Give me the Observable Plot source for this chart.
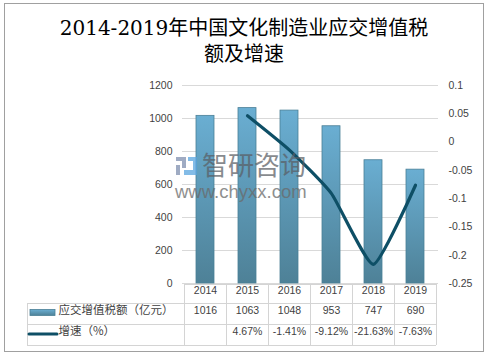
<!DOCTYPE html>
<html>
<head>
<meta charset="utf-8">
<script src="https://cdn.jsdelivr.net/npm/d3@7"></script>
<script src="https://cdn.jsdelivr.net/npm/@observablehq/plot@0.6"></script>
<style>
  html, body { margin: 0; padding: 0; background: #fff; }
  #wrap { position: relative; width: 488px; height: 356px; overflow: hidden; background: #fff; }
  #title { height: 70px; box-sizing: border-box; padding-top: 15px; text-align: center;
           font-family: "DejaVu Serif", "Noto Sans CJK SC", serif; font-size: 20px; line-height: 26px; color: #000; }
  #frame { position: absolute; left: 4px; top: 3px; width: 478px; height: 347px; border: 1px solid #a0a0a0; pointer-events: none; }
  #wm1 { position: absolute; left: 202px; top: 151px; font-family: "Noto Sans CJK SC", sans-serif; font-size: 26px; line-height: 26px; color: #5a5e64; opacity: 0.72; pointer-events: none; }
  #wm2 { position: absolute; left: 175px; top: 183px; font-family: "Liberation Sans", sans-serif; font-size: 18.5px; line-height: 18px; color: #6a6a6a; opacity: 0.75; pointer-events: none; }
  #logo { position: absolute; left: 176px; top: 156px; width: 22px; height: 20px; pointer-events: none; opacity: 0.75; }
</style>
</head>
<body>
<div id="wrap">
  <div id="title">2014-2019年中国文化制造业应交增值税<br>额及增速</div>
  <div id="chart"></div>
  <svg id="logo" viewBox="0 0 22 20">
    <rect x="0" y="1" width="10" height="4" fill="#7f8fb0"/>
    <rect x="6" y="4" width="4" height="8" fill="#7f8fb0"/>
    <rect x="0" y="9" width="4" height="10" fill="#7f8fb0"/>
    <rect x="12" y="1" width="9" height="4" fill="#5aa6e0"/>
    <rect x="17" y="4" width="4" height="12" fill="#5aa6e0"/>
    <rect x="8" y="14" width="13" height="5" fill="#5aa6e0"/>
  </svg>
  <div id="wm1">智研咨询</div>
  <div id="wm2">www.chyxx.com</div>
  <div id="frame"></div>
</div>
<script>
// ---- data ----
const years = ["2014", "2015", "2016", "2017", "2018", "2019"];
const taxValues = [1016, 1063, 1048, 953, 747, 690];          // 亿元
const growthYears = ["2015", "2016", "2017", "2018", "2019"];
const growthValues = [0.0467, -0.0141, -0.0912, -0.2163, -0.0763];
const leftTicks = [0, 200, 400, 600, 800, 1000, 1200];
const rightTicks = [0.1, 0.05, 0, -0.05, -0.1, -0.15, -0.2, -0.25];
const seriesNames = ["应交增值税额（亿元）", "增速（%）"];

// right axis [-0.25, 0.1] mapped onto left axis [0, 1200]
const rMin = -0.25, rMax = 0.1, lMax = 1200;
const toLeft = v => (v - rMin) / (rMax - rMin) * lMax;
const fromLeft = v => v / lMax * (rMax - rMin) + rMin;

const bars = years.map((y, i) => ({year: y, value: taxValues[i]}));
const growth = growthYears.map((y, i) => ({year: y, g: growthValues[i], v: toLeft(growthValues[i])}));
const growthText = years.map(y => {
  const k = growthYears.indexOf(y);
  return {year: y, text: k < 0 ? "" : (growthValues[k] * 100).toFixed(2) + "%"};
});

const barColor = "url(#barGrad)";
const lineColor = "#0e4f66";
const textColor = "#3f3f3f";

const defs = () => {
  const d = d3.create("svg:defs");
  const g = d.append("linearGradient").attr("id", "barGrad").attr("x1", 0).attr("y1", 0).attr("x2", 0).attr("y2", 1);
  g.append("stop").attr("offset", "0%").attr("stop-color", "#6aaed2");
  g.append("stop").attr("offset", "100%").attr("stop-color", "#4e8197");
  const h = d.append("linearGradient").attr("id", "keyGrad").attr("x1", 0).attr("y1", 0).attr("x2", 0).attr("y2", 1);
  h.append("stop").attr("offset", "0%").attr("stop-color", "#6aaed2");
  h.append("stop").attr("offset", "100%").attr("stop-color", "#4e8197");
  return d.node();
};

const plot = Plot.plot({
  width: 488,
  height: 286,
  marginLeft: 182,
  marginRight: 50,
  marginTop: 15,
  marginBottom: 73,
  style: {fontFamily: "'Liberation Sans', 'Noto Sans CJK SC', sans-serif", fontSize: "10.5px", color: textColor, background: "transparent"},
  x: {domain: years, paddingInner: 0.58, paddingOuter: 0.29, axis: null},
  y: {domain: [0, 1200], axis: null},
  marks: [
    defs,
    Plot.gridY(leftTicks, {stroke: "#d9d9d9", strokeOpacity: 1}),
    Plot.axisY(leftTicks, {anchor: "left", tickSize: 0, tickPadding: 10, label: null, tickFormat: d => String(d)}),
    Plot.axisY(rightTicks.map(toLeft), {anchor: "right", tickSize: 0, tickPadding: 10, label: null,
      tickFormat: v => String(+fromLeft(v).toFixed(2))}),
    Plot.barY(bars, {x: "year", y: "value", fill: barColor, stroke: "#4a7f96", strokeWidth: 0.8}),
    Plot.line(growth, {x: "year", y: "v", stroke: lineColor, strokeWidth: 3.2, curve: "cardinal", tension: 0.5}),
    // table text
    Plot.text(years, {x: d => d, text: d => d, frameAnchor: "bottom", dy: 10.5}),
    Plot.text(bars, {x: "year", text: d => String(d.value), frameAnchor: "bottom", dy: 30.5}),
    Plot.text(growthText, {x: "year", text: "text", frameAnchor: "bottom", dy: 51.5}),
    Plot.text([seriesNames[0]], {text: d => d, frameAnchor: "bottom-left", dx: -124, dy: 30.5, textAnchor: "start",
      fontSize: 11.5, fontFamily: "'Noto Sans CJK SC', sans-serif"}),
    Plot.text([seriesNames[1]], {text: d => d, frameAnchor: "bottom-left", dx: -124, dy: 51.5, textAnchor: "start",
      fontSize: 11.5, fontFamily: "'Noto Sans CJK SC', sans-serif"})
  ]
});

document.getElementById("chart").appendChild(plot);

// table grid and legend keys, positioned with the plot's x scale
const xs = plot.scale("x");
const step = xs.step, bw = xs.bandwidth;
const edges = years.map(y => xs.apply(y) - (step - bw) / 2);
edges.push(edges[edges.length - 1] + step);
const svg = d3.select(plot);
const g = svg.append("g").attr("stroke", "#d4d4d4").attr("stroke-width", 1).attr("shape-rendering", "crispEdges");
const yHead = 214, yRow1 = 233, yRow2 = 254, yEnd = 275, xLeft = 27;
const xR = edges[edges.length - 1];
g.append("line").attr("x1", edges[0]).attr("x2", xR).attr("y1", yHead + 0.5).attr("y2", yHead + 0.5);
[yRow1, yRow2, yEnd].forEach(y => g.append("line").attr("x1", xLeft).attr("x2", xR).attr("y1", y + 0.5).attr("y2", y + 0.5));
g.append("line").attr("x1", xLeft + 0.5).attr("x2", xLeft + 0.5).attr("y1", yRow1).attr("y2", yEnd);
edges.forEach(e => g.append("line").attr("x1", Math.round(e) + 0.5).attr("x2", Math.round(e) + 0.5).attr("y1", yHead).attr("y2", yEnd));
// legend keys
svg.append("rect").attr("x", 30).attr("y", 239.5).attr("width", 25).attr("height", 6)
  .attr("fill", "url(#keyGrad)").attr("stroke", "#4a7f96").attr("stroke-width", 0.8);
svg.append("line").attr("x1", 29).attr("x2", 57).attr("y1", 264).attr("y2", 264)
  .attr("stroke", lineColor).attr("stroke-width", 3).attr("stroke-linecap", "round");
</script>
</body>
</html>
